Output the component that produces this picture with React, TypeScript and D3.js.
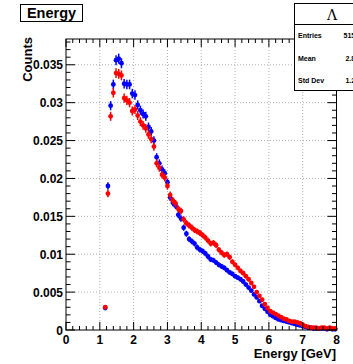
import React from "react";
import * as d3 from "d3";

const W = 353;
const H = 364;

// histogram: 100 bins over 0..8 GeV, filled bins start at bin index 14
const BIN_WIDTH = 0.08;
const FIRST_BIN = 14;
const N_EFF = 80000; // effective entries for Poisson error bars

const blueCounts = [
  0.0029, 0.019, 0.0296, 0.0324, 0.0356, 0.0358, 0.0352, 0.0325, 0.0324, 0.0324,
  0.0312, 0.031, 0.0297, 0.029, 0.0285, 0.0282, 0.0268, 0.0262, 0.025, 0.0228,
  0.022, 0.0212, 0.0207, 0.0195, 0.0175, 0.0168, 0.0164, 0.0152, 0.0147, 0.0135,
  0.0127, 0.012, 0.0117, 0.0114, 0.0109, 0.0106, 0.0104, 0.0101, 0.0097, 0.0093,
  0.0092, 0.0089, 0.0086, 0.0084, 0.0082, 0.0079, 0.0076, 0.0074, 0.0071, 0.0069,
  0.0067, 0.0064, 0.006, 0.0056, 0.0052, 0.0047, 0.0043, 0.0038, 0.0032, 0.0028,
  0.0024, 0.002, 0.0018, 0.0016, 0.0014, 0.0013, 0.0012, 0.0011, 0.001, 0.0009,
  0.0008, 0.0007, 0.0006, 0.0005, 0.0004, 0.0003, 0.0003, 0.0002, 0.0002, 0.0002,
  0.0002, 0.0002, 0.0001, 0.0002, 0.0001, 0.0001,
];

const redCounts = [
  0.003, 0.018, 0.0282, 0.0313, 0.0339, 0.0338, 0.0336, 0.0306, 0.0303, 0.03,
  0.0289, 0.0291, 0.0283, 0.0275, 0.027, 0.0266, 0.0258, 0.0252, 0.0242, 0.022,
  0.0214, 0.0205, 0.0201, 0.019, 0.0178, 0.0171, 0.0167, 0.016, 0.0157, 0.0146,
  0.0141, 0.0138, 0.0135, 0.0132, 0.013, 0.0128, 0.0125, 0.0122, 0.0118, 0.0114,
  0.0115, 0.0112, 0.0106, 0.0102, 0.0099, 0.01, 0.0096, 0.009, 0.0086, 0.0082,
  0.0078, 0.0075, 0.0071, 0.0067, 0.0062, 0.0057, 0.005, 0.0045, 0.004, 0.0034,
  0.0029, 0.0025, 0.0023, 0.0021, 0.0019, 0.0017, 0.0015, 0.0014, 0.0012, 0.0011,
  0.0011, 0.001, 0.0009, 0.0007, 0.0005, 0.0004, 0.0003, 0.0003, 0.0003, 0.0002,
  0.0003, 0.0003, 0.0002, 0.0003, 0.0002, 0.0002,
];

const xTicks = [0, 1, 2, 3, 4, 5, 6, 7, 8];
const yTicks = [0, 0.005, 0.01, 0.015, 0.02, 0.025, 0.03, 0.035];
const yTickLabels = ["0", "0.005", "0.01", "0.015", "0.02", "0.025", "0.03", "0.035"];

const statsLabels = ["Entries", "Mean", "Std Dev"];
const statsValues = ["51572", "2.896", "1.236"];

const FONT = "'Liberation Sans', Arial, Helvetica, sans-serif";

export default function App() {
  const x = d3.scaleLinear().domain([0, 8]).range([66, 336.5]);
  const y = d3.scaleLinear().domain([0, 0.0384]).range([330, 39]);
  const [x0, x1] = x.range();
  const [y0, y1] = y.range();

  const xMinor = d3.range(0, 8.0001, 0.2);
  const yMinor = d3.range(0, 0.0384, 0.001);

  const series = [
    { values: blueCounts, color: "#0000ff" },
    { values: redCounts, color: "#ff0000" },
  ];

  return (
    <svg
      width={W}
      height={H}
      style={{ position: "absolute", left: 0, top: 0, display: "block", background: "#fff" }}
      fontFamily={FONT}
    >
      <rect x={0} y={0} width={W} height={H} fill="#fff" />
      {/* grid */}
      {xTicks.slice(1, -1).map((t) => (
        <line key={"gx" + t} x1={x(t)} x2={x(t)} y1={y0} y2={y1} stroke="#9a9a9a" strokeWidth={0.8} strokeDasharray="1,2" />
      ))}
      {yTicks.slice(1).map((t) => (
        <line key={"gy" + t} x1={x0} x2={x1} y1={y(t)} y2={y(t)} stroke="#9a9a9a" strokeWidth={0.8} strokeDasharray="1,2" />
      ))}

      {/* data */}
      {series.map((s, si) => (
        <g key={si}>
          {s.values.map((v, i) => {
            const c = (FIRST_BIN + i + 0.5) * BIN_WIDTH;
            const err = Math.sqrt(v / N_EFF);
            const cx = x(c);
            return (
              <g key={i}>
                <line x1={cx} x2={cx} y1={y(v + err)} y2={y(Math.max(0, v - err))} stroke={s.color} strokeWidth={1.5} />
                <line x1={x(c - BIN_WIDTH / 2)} x2={x(c + BIN_WIDTH / 2)} y1={y(v)} y2={y(v)} stroke={s.color} strokeWidth={1.5} />
                <circle cx={cx} cy={y(v)} r={2.4} fill={s.color} />
              </g>
            );
          })}
        </g>
      ))}

      {/* frame */}
      <rect x={x0} y={y1} width={x1 - x0} height={y0 - y1} fill="none" stroke="#000" strokeWidth={1} />

      {/* x ticks bottom & top */}
      {xMinor.map((t, i) => {
        const major = i % 5 === 0;
        const len = major ? 8 : 4;
        return (
          <g key={"xt" + i}>
            <line x1={x(t)} x2={x(t)} y1={y0} y2={y0 - len} stroke="#000" strokeWidth={1} />
            <line x1={x(t)} x2={x(t)} y1={y1} y2={y1 + len} stroke="#000" strokeWidth={1} />
          </g>
        );
      })}
      {/* y ticks left & right */}
      {yMinor.map((t, i) => {
        const major = i % 5 === 0;
        const len = major ? 9 : 4.5;
        return (
          <g key={"yt" + i}>
            <line x1={x0} x2={x0 + len} y1={y(t)} y2={y(t)} stroke="#000" strokeWidth={1} />
            <line x1={x1} x2={x1 - len} y1={y(t)} y2={y(t)} stroke="#000" strokeWidth={1} />
          </g>
        );
      })}

      {/* tick labels */}
      {xTicks.map((t) => (
        <text key={"xl" + t} x={x(t)} y={344} textAnchor="middle" fontSize={12} fontWeight="bold">
          {t}
        </text>
      ))}
      {yTicks.map((t, i) => (
        <text key={"yl" + t} x={63} y={y(t) + 4.5} textAnchor="end" fontSize={12} fontWeight="bold">
          {yTickLabels[i]}
        </text>
      ))}

      {/* axis titles */}
      <text x={336} y={358} textAnchor="end" fontSize={13} fontWeight="bold">
        Energy [GeV]
      </text>
      <text transform="translate(32,37) rotate(-90)" textAnchor="end" fontSize={13} fontWeight="bold">
        Counts
      </text>

      {/* title box */}
      <rect x={20.5} y={4.5} width={62} height={17} fill="#fff" stroke="#000" strokeWidth={1} />
      <text x={51.5} y={18} textAnchor="middle" fontSize={14.5} fontWeight="bold">
        Energy
      </text>

      {/* stats box */}
      <rect x={294.5} y={3.5} width={80} height={87} fill="#fff" stroke="#000" strokeWidth={1} />
      <line x1={294.5} x2={375} y1={24.5} y2={24.5} stroke="#000" strokeWidth={1} />
      <text x={332} y={20} textAnchor="middle" fontSize={14} fontFamily="'DejaVu Serif', 'Liberation Serif', serif">
        Λ
      </text>
      {statsLabels.map((l, i) => (
        <g key={l}>
          <text x={298} y={38 + i * 22.5} fontSize={7} fontWeight="bold">
            {l}
          </text>
          <text x={363} y={38 + i * 22.5} fontSize={7} fontWeight="bold" textAnchor="end">
            {statsValues[i]}
          </text>
        </g>
      ))}
    </svg>
  );
}
